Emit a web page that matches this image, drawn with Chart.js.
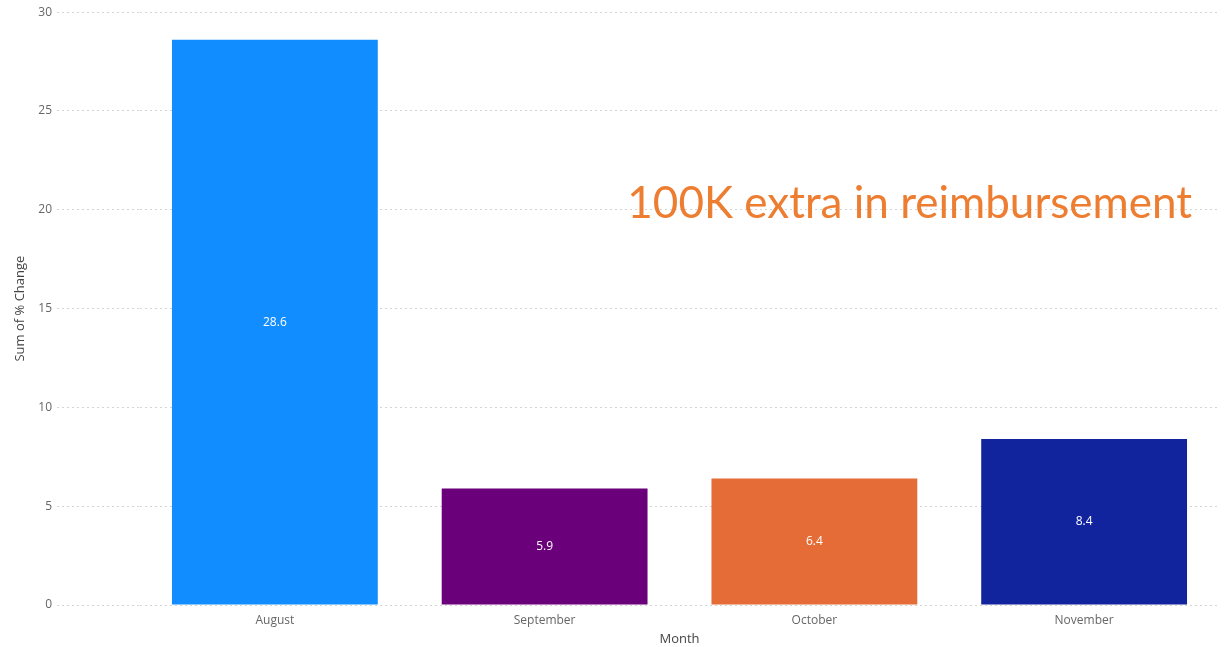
<!DOCTYPE html>
<html>
<head>
<meta charset="utf-8">
<title>Sum of % Change by Month</title>
<script src="https://cdn.jsdelivr.net/npm/chart.js@4.4.1/dist/chart.umd.min.js"></script>
<style>
  html, body { margin: 0; padding: 0; background: #fff; }
  #wrap { width: 1229px; height: 647px; position: relative; }
</style>
</head>
<body>
<div id="wrap"><canvas id="chart"></canvas></div>
<script>
const months = ['August', 'September', 'October', 'November'];
const pctChange = [28.6, 5.9, 6.4, 8.4];
const barColors = ['#118DFF', '#6B007B', '#E66C37', '#12239E'];
const yTicks = [0, 5, 10, 15, 20, 25, 30];
const noteText = '100K extra in reimbursement';

const gridGrey = '#d4d4d4';
const tickGrey = '#666666';
const uiFont = '"Open Sans", "Noto Sans", sans-serif';

// white value labels centred inside each bar
const barValueLabels = {
    id: 'barValueLabels',
    afterDatasetsDraw(chart) {
        const ctx = chart.ctx;
        const meta = chart.getDatasetMeta(0);
        ctx.save();
        ctx.fillStyle = '#ffffff';
        ctx.font = '12px ' + uiFont;
        ctx.textAlign = 'center';
        ctx.textBaseline = 'middle';
        meta.data.forEach((bar, i) => {
            const mid = (bar.y + bar.base) / 2;
            ctx.fillText(pctChange[i].toFixed(1), bar.x, mid);
        });
        ctx.restore();
    }
};

// orange callout on the right-hand side
const noteLabel = {
    id: 'noteLabel',
    afterDraw(chart) {
        const ctx = chart.ctx;
        const y = chart.scales.y;
        ctx.save();
        ctx.fillStyle = '#ED7D31';
        ctx.font = '44px Lato, "Open Sans", sans-serif';
        ctx.textAlign = 'right';
        ctx.textBaseline = 'alphabetic';
        ctx.fillText(noteText, 1192, y.getPixelForValue(19.6));
        ctx.restore();
    }
};

new Chart(document.getElementById('chart'), {
    type: 'bar',
    data: {
        labels: months,
        datasets: [{
            label: 'Sum of % Change',
            data: pctChange,
            backgroundColor: barColors,
            borderWidth: 0,
            categoryPercentage: 1,
            barPercentage: 0.763
        }]
    },
    options: {
        responsive: true,
        maintainAspectRatio: false,
        animation: false,
        layout: { padding: { top: 6, right: 10, left: 0, bottom: 0 } },
        plugins: {
            legend: { display: false },
            tooltip: { enabled: false }
        },
        scales: {
            x: {
                grid: { display: false },
                border: { display: false },
                ticks: { color: tickGrey, font: { family: uiFont, size: 12 }, padding: 0 },
                title: {
                    display: true,
                    text: 'Month',
                    color: '#444444',
                    font: { family: uiFont, size: 13 },
                    padding: { top: 4, bottom: 0 }
                }
            },
            y: {
                min: 0,
                max: 30,
                afterBuildTicks(scale) {
                    scale.ticks = yTicks.map(v => ({ value: v }));
                },
                afterFit(scale) {
                    scale.width = 140;
                },
                border: { display: false, dash: [2, 3] },
                grid: {
                    color: gridGrey,
                    lineWidth: 1,
                    tickLength: 83,
                    tickColor: gridGrey,
                    tickBorderDash: [2, 3]
                },
                ticks: { color: tickGrey, font: { family: uiFont, size: 12 }, padding: 5 },
                title: {
                    display: true,
                    text: 'Sum of % Change',
                    color: '#444444',
                    font: { family: uiFont, size: 13 },
                    padding: { top: 12, bottom: 4 }
                }
            }
        }
    },
    plugins: [barValueLabels, noteLabel]
});
</script>
</body>
</html>
